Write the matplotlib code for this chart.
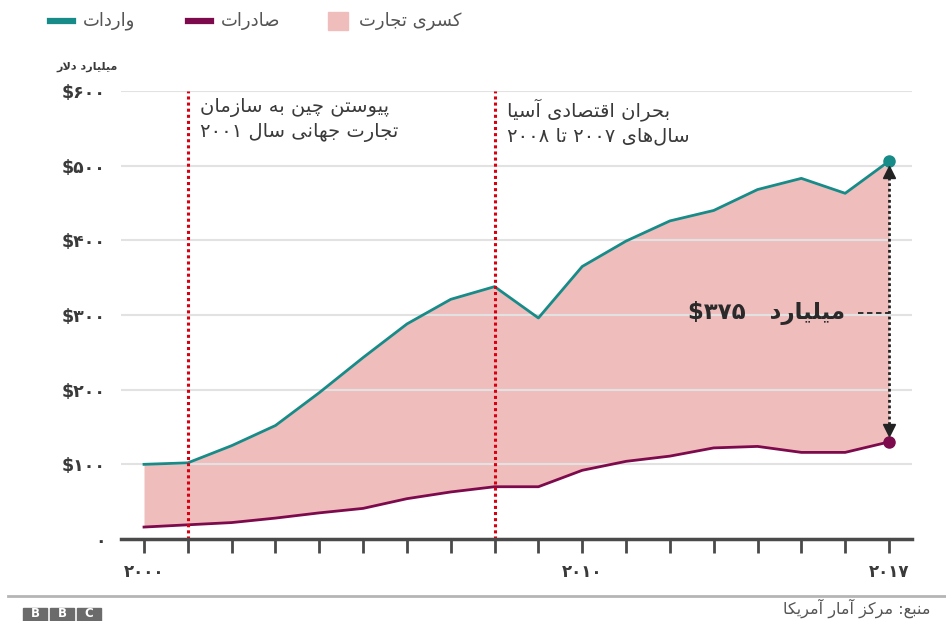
import re
import matplotlib
matplotlib.use("Agg")
import matplotlib.pyplot as plt
from matplotlib.patches import Rectangle
from matplotlib.lines import Line2D

# Data (billion USD), US trade with China
years = list(range(2000, 2018))
imports = [100, 102, 125, 152, 196, 243, 288, 321, 338, 296, 365, 399, 426, 440, 468, 483, 463, 506]
exports = [16, 19, 22, 28, 35, 41, 54, 63, 70, 70, 92, 104, 111, 122, 124, 116, 116, 130]
y_ticks = [0, 100, 200, 300, 400, 500, 600]
x_labels = {2000: "۲۰۰۰", 2010: "۲۰۱۰", 2017: "۲۰۱۷"}
events = [2001, 2008]

# --- simple Persian shaping (presentation forms) + visual ordering
FORMS = {
    'ا': ('\uFE8D', '\uFE8E'), 'آ': ('\uFE81', '\uFE82'),
    'د': ('\uFEA9', '\uFEAA'), 'ر': ('\uFEAD', '\uFEAE'),
    'ز': ('\uFEAF', '\uFEB0'), 'و': ('\uFEED', '\uFEEE'),
    'ب': ('\uFE8F', '\uFE90', '\uFE91', '\uFE92'),
    'ت': ('\uFE95', '\uFE96', '\uFE97', '\uFE98'),
    'ج': ('\uFE9D', '\uFE9E', '\uFE9F', '\uFEA0'),
    'ح': ('\uFEA1', '\uFEA2', '\uFEA3', '\uFEA4'),
    'س': ('\uFEB1', '\uFEB2', '\uFEB3', '\uFEB4'),
    'ص': ('\uFEB9', '\uFEBA', '\uFEBB', '\uFEBC'),
    'ع': ('\uFEC9', '\uFECA', '\uFECB', '\uFECC'),
    'ق': ('\uFED5', '\uFED6', '\uFED7', '\uFED8'),
    'ل': ('\uFEDD', '\uFEDE', '\uFEDF', '\uFEE0'),
    'م': ('\uFEE1', '\uFEE2', '\uFEE3', '\uFEE4'),
    'ن': ('\uFEE5', '\uFEE6', '\uFEE7', '\uFEE8'),
    'ه': ('\uFEE9', '\uFEEA', '\uFEEB', '\uFEEC'),
    'پ': ('\uFB56', '\uFB57', '\uFB58', '\uFB59'),
    'چ': ('\uFB7A', '\uFB7B', '\uFB7C', '\uFB7D'),
    'ک': ('\uFB8E', '\uFB8F', '\uFB90', '\uFB91'),
    'ی': ('\uFEEF', '\uFEF0', '\uFEF3', '\uFEF4'),
}
LAM_ALEF = {'ا': ('\uFEFB', '\uFEFC'), 'آ': ('\uFEF5', '\uFEF6')}


def dual(c):
    return c in FORMS and len(FORMS[c]) == 4


def shape(s):
    out = []
    i = 0
    while i < len(s):
        c = s[i]
        if c not in FORMS:
            out.append(c)
            i += 1
            continue
        prev_join = i > 0 and dual(s[i - 1])
        if c == 'ل' and i + 1 < len(s) and s[i + 1] in LAM_ALEF:
            lig = LAM_ALEF[s[i + 1]]
            out.append(lig[1] if prev_join else lig[0])
            i += 2
            continue
        next_join = dual(c) and i + 1 < len(s) and s[i + 1] in FORMS
        f = FORMS[c]
        if prev_join and next_join:
            out.append(f[3])
        elif prev_join:
            out.append(f[1])
        elif next_join:
            out.append(f[2])
        else:
            out.append(f[0])
        i += 1
    return ''.join(out).replace('\u200c', '')


def fa(s):
    runs = re.findall(r'[0-9۰-۹$]+|[^0-9۰-۹$]+', shape(s))
    return ''.join(r if re.match(r'[0-9۰-۹$]', r) else r[::-1] for r in reversed(runs))


plt.rcParams['font.family'] = ['DejaVu Sans']

teal = '#178b88'
maroon = '#7d0a4c'
pink = '#f0bdbd'
red = '#d80010'
txt = '#3a3a3a'

fig = plt.figure(figsize=(9.46, 6.21), dpi=100)
ax = fig.add_axes([121 / 946, 1 - 539 / 621, 791 / 946, 448 / 621])

ax.fill_between(years, exports, imports, color=pink, lw=0, zorder=1)
ax.plot(years, imports, color=teal, lw=2, zorder=3)
ax.plot(years, exports, color=maroon, lw=2, zorder=3)
ax.plot(years[-1], imports[-1], 'o', color=teal, ms=8, clip_on=False, zorder=5)
ax.plot(years[-1], exports[-1], 'o', color=maroon, ms=8, clip_on=False, zorder=5)

for ev in events:
    ax.axvline(ev, color=red, lw=2.2, ls=(0, (1, 1)), zorder=4)

ax.set_xlim(1999.475, 2017.525)
ax.set_ylim(0, 600)
ax.set_yticks(y_ticks)
ax.set_yticklabels(["۰"] + ["$" + "".join("۰۱۲۳۴۵۶۷۸۹"[int(d)] for d in str(v)) for v in y_ticks[1:]],
                   fontsize=12.5, fontweight='bold', color=txt)
ax.tick_params(axis='y', length=0, pad=11)
ax.grid(axis='y', color='#e2e2e2', lw=1.5, zorder=0)
ax.set_xticks(years)
ax.set_xticklabels([x_labels.get(y, "") for y in years], fontsize=12, fontweight='bold', color=txt)
ax.tick_params(axis='x', length=10, width=2, color='#4a4a4a', pad=7)
for side in ['top', 'right', 'left']:
    ax.spines[side].set_visible(False)
ax.spines['bottom'].set_color('#4a4a4a')
ax.spines['bottom'].set_linewidth(2.5)
ax.spines['bottom'].set_zorder(6)

# event notes
ax.text(2001.28, 590, fa("پیوستن چین به سازمان") + "\n" + fa("تجارت جهانی سال ۲۰۰۱"),
        ha='left', va='top', fontsize=14, color=txt, linespacing=1.3)
ax.text(2008.28, 590, fa("بحران اقتصادی آسیا") + "\n" + fa("سال\u200cهای ۲۰۰۷ تا ۲۰۰۸"),
        ha='left', va='top', fontsize=14, color=txt, linespacing=1.3)

# gap arrow
top_gap = imports[-1] - 15
bot_gap = exports[-1] + 16
ax.plot([2017, 2017], [bot_gap, top_gap], color='#222222', lw=2, ls=(0, (1, 1)), zorder=5)
ax.plot(2017, top_gap, '^', color='#222222', ms=8, zorder=5)
ax.plot(2017, bot_gap, 'v', color='#222222', ms=8, zorder=5)
ax.plot([2016.3, 2017], [303, 303], color='#222222', lw=1.3, ls=(0, (3, 2)), zorder=5)
ax.text(2016.0, 303, "$۳۷۵   " + fa("میلیارد"), ha='right', va='center',
        fontsize=16.5, fontweight='bold', color='#2a2a2a')

# y unit label
fig.text(118 / 946, 1 - 67 / 621, fa("میلیارد دلار"), ha='right', va='center',
         fontsize=8, fontweight='bold', color=txt)

# legend (manual)
ly = 1 - 21 / 621
legend_items = [
    (50, 73, 83, fa("واردات"), teal, 'line'),
    (188, 211, 221, fa("صادرات"), maroon, 'line'),
    (328, 348, 359, fa("کسری تجارت"), pink, 'box'),
]
for x0, x1, xt, label, col, kind in legend_items:
    if kind == 'line':
        fig.add_artist(Line2D([x0 / 946, x1 / 946], [ly, ly], color=col, lw=4.5))
    else:
        fig.add_artist(Rectangle((x0 / 946, ly - 9 / 621), (x1 - x0) / 946, 18 / 621,
                                 color=col, transform=fig.transFigure))
    fig.text(xt / 946, ly, label, ha='left', va='center', fontsize=13, color='#555555')

# footer
fig.add_artist(Line2D([8 / 946, 1], [1 - 596 / 621, 1 - 596 / 621], color='#b5b5b5', lw=2))
for k, letter in enumerate("BBC"):
    bx = (23 + k * 27) / 946
    fig.add_artist(Rectangle((bx, 0), 24 / 946, 13 / 621, color='#6b6b6b',
                             transform=fig.transFigure))
    fig.text(bx + 12 / 946, 1 / 621, letter, ha='center', va='bottom', fontsize=8.5,
             fontweight='bold', color='white')
fig.text(930 / 946, 1 - 608 / 621, fa("منبع: مرکز آمار آمریکا"), ha='right', va='center',
         fontsize=11.5, color='#555555')

fig.savefig("out.png", dpi=100, facecolor='white')
